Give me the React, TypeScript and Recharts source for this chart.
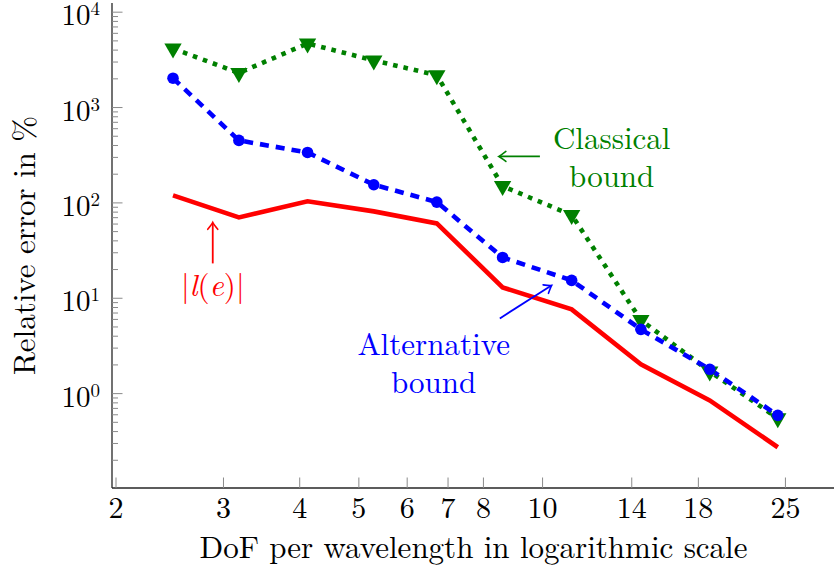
import React from 'react';
import { LineChart, Line, XAxis, YAxis, ReferenceDot, ReferenceLine } from 'recharts';

// ---- data ----
const dofPerWavelength = [2.48, 3.18, 4.12, 5.29, 6.71, 8.6, 11.16, 14.49, 18.79, 24.29];
const lOfE = [120, 70.5, 104, 81.5, 61, 13.0, 7.65, 2.03, 0.85, 0.274];
const alternativeBound = [2030, 452, 338, 155, 102, 26.8, 15.4, 4.72, 1.8, 0.592];
const classicalBound = [4160, 2305, 4700, 3117, 2186, 150, 74.5, 5.91, 1.71, 0.551];

const xTicks = [2, 3, 4, 5, 6, 7, 8, 10, 14, 18, 25];
const yDecades = [-1, 0, 1, 2, 3, 4];
const yMultipliers = [1, 2, 3, 4, 5, 6, 7, 8, 9];
const xDomain = [1.97, 30.6];
const yDomain = [0.1024, 12480];

const xLabel = 'DoF per wavelength in logarithmic scale';
const yLabel = 'Relative error in %';

const data = dofPerWavelength.map((x, i) => ({
  x,
  l: lOfE[i],
  alt: alternativeBound[i],
  cls: classicalBound[i],
}));

const yTicks: number[] = [];
yDecades.forEach((d) =>
  yMultipliers.forEach((m) => {
    const v = m * Math.pow(10, d);
    if (v >= yDomain[0] && v <= yDomain[1]) yTicks.push(v);
  })
);

const FONT = "'Latin Modern Roman', 'Liberation Serif', serif";
const RED = '#ff0000';
const BLUE = '#0000ff';
const GREEN = '#008000';
const TICK = '#8a8a8a';
const FRAME = '#262626';

const T = (props: any) => {
  const { size, children, ...rest } = props;
  return (
    <text fontFamily={FONT} fontSize={size} style={{ fontFamily: FONT, fontSize: size }} {...rest}>
      {children}
    </text>
  );
};

const isMajor = (v: number) => Math.abs(Math.log10(v) - Math.round(Math.log10(v))) < 1e-9;

const BottomTick = (p: any) => (
  <g>
    <line x1={p.x} x2={p.x} y1={p.y} y2={p.y - 10.5} stroke={TICK} strokeWidth={1} />
    <T x={p.x} y={p.y + 30} textAnchor="middle" size={30} fill="#000">
      {p.payload.value}
    </T>
  </g>
);
const TopTick = (p: any) => (
  <line x1={p.x} x2={p.x} y1={p.y} y2={p.y + 10.5} stroke={TICK} strokeWidth={1} />
);
const LeftTick = (p: any) => {
  const v = p.payload.value;
  const major = isMajor(v);
  return (
    <g>
      <line x1={p.x} x2={p.x + (major ? 10.5 : 6)} y1={p.y} y2={p.y} stroke={TICK} strokeWidth={1} />
      {major && (
        <T x={p.x - 12} y={p.y + 13} textAnchor="end" size={29} fill="#000">
          10
          <tspan dy={-10} fontSize={19} style={{ fontSize: 19 }}>
            {Math.round(Math.log10(v))}
          </tspan>
        </T>
      )}
    </g>
  );
};
const RightTick = (p: any) => {
  const major = isMajor(p.payload.value);
  return <line x1={p.x} x2={p.x - (major ? 10.5 : 6)} y1={p.y} y2={p.y} stroke={TICK} strokeWidth={1} />;
};

const TriDown = (p: any) => {
  const { cx, cy } = p;
  if (cx == null || cy == null) return null;
  const r = 10;
  const h = (r * Math.sqrt(3)) / 2;
  return (
    <path
      d={`M${cx - h},${cy - r / 2} L${cx + h},${cy - r / 2} L${cx},${cy + r} Z`}
      fill={GREEN}
      stroke="none"
    />
  );
};
const BlueDot = (p: any) => {
  const { cx, cy } = p;
  if (cx == null || cy == null) return null;
  return <circle cx={cx} cy={cy} r={5.8} fill={BLUE} stroke="none" />;
};

// arrow drawn between two data points: tip at the second point
const Arrow = (color: string) => (p: any) => {
  const { x1, y1, x2, y2 } = p;
  if (x1 == null) return null;
  const dx = x2 - x1;
  const dy = y2 - y1;
  const len = Math.sqrt(dx * dx + dy * dy) || 1;
  const ux = dx / len;
  const uy = dy / len;
  const nx = -uy;
  const ny = ux;
  const back = 7;
  const wide = 5;
  const ax = x2 - ux * back + nx * wide;
  const ay = y2 - uy * back + ny * wide;
  const bx = x2 - ux * back - nx * wide;
  const by = y2 - uy * back - ny * wide;
  const cax = x2 - ux * 2 + nx * 1;
  const cay = y2 - uy * 2 + ny * 1;
  const cbx = x2 - ux * 2 - nx * 1;
  const cby = y2 - uy * 2 - ny * 1;
  return (
    <g>
      <line x1={x1} y1={y1} x2={x2 - ux * 0.8} y2={y2 - uy * 0.8} stroke={color} strokeWidth={1.8} />
      <path
        d={`M${ax},${ay} Q${cax},${cay} ${x2},${y2} Q${cbx},${cby} ${bx},${by}`}
        fill="none"
        stroke={color}
        strokeWidth={1.6}
        strokeLinecap="round"
      />
    </g>
  );
};

const TwoLine = (lines: string[], color: string) => (p: any) => {
  const { cx, cy } = p;
  if (cx == null) return null;
  return (
    <T x={cx} y={cy} textAnchor="middle" size={31} fill={color}>
      <tspan x={cx} y={cy}>{lines[0]}</tspan>
      <tspan x={cx} y={cy + 38}>{lines[1]}</tspan>
    </T>
  );
};

const LeLabel = (p: any) => {
  const { cx, cy } = p;
  if (cx == null) return null;
  return (
    <T x={cx} y={cy} textAnchor="middle" size={31} fill={RED}>
      |<tspan fontStyle="italic" style={{ fontStyle: 'italic' }}>l</tspan>(
      <tspan fontStyle="italic" style={{ fontStyle: 'italic' }}>e</tspan>)|
    </T>
  );
};

const XAxisLabel = (p: any) => {
  const vb = p.viewBox || {};
  return (
    <T x={vb.x + vb.width / 2 - 2} y={vb.y + 70} textAnchor="middle" size={31} fill="#000">
      {xLabel}
    </T>
  );
};
const YAxisLabel = (p: any) => {
  const vb = p.viewBox || {};
  const cy = vb.y + vb.height / 2;
  return (
    <T x={35} y={cy} transform={`rotate(-90 35 ${cy})`} textAnchor="middle" size={31} fill="#000">
      {yLabel}
    </T>
  );
};

export default function App() {
  return (
    <div
      style={{
        position: 'absolute',
        left: 0,
        top: 0,
        width: 834,
        height: 574,
        overflow: 'hidden',
        background: '#fff',
        fontFamily: FONT,
      }}
    >
      <LineChart
        width={845}
        height={574}
        data={data}
        margin={{ top: 3, right: 6, left: 0, bottom: 0 }}
        style={{ fontFamily: FONT }}
      >
        <XAxis
          dataKey="x"
          type="number"
          scale="log"
          domain={xDomain}
          ticks={xTicks}
          interval={0}
          allowDataOverflow
          height={86}
          tickSize={0}
          tickMargin={0}
          tickLine={false}
          axisLine={{ stroke: FRAME, strokeWidth: 1.3 }}
          tick={<BottomTick />}
          label={<XAxisLabel />}
        />
        <XAxis
          xAxisId="top"
          orientation="top"
          dataKey="x"
          type="number"
          scale="log"
          domain={xDomain}
          ticks={xTicks}
          interval={0}
          allowDataOverflow
          height={0}
          tickSize={0}
          tickMargin={0}
          tickLine={false}
          axisLine={{ stroke: FRAME, strokeWidth: 1.3 }}
          tick={<TopTick />}
        />
        <YAxis
          type="number"
          scale="log"
          domain={yDomain}
          ticks={yTicks}
          interval={0}
          allowDataOverflow
          width={112}
          tickSize={0}
          tickMargin={0}
          tickLine={false}
          axisLine={{ stroke: FRAME, strokeWidth: 1.3 }}
          tick={<LeftTick />}
          label={<YAxisLabel />}
        />
        <YAxis
          yAxisId="right"
          orientation="right"
          type="number"
          scale="log"
          domain={yDomain}
          ticks={yTicks}
          interval={0}
          allowDataOverflow
          width={0}
          tickSize={0}
          tickMargin={0}
          tickLine={false}
          axisLine={{ stroke: FRAME, strokeWidth: 1.3 }}
          tick={<RightTick />}
        />

        <Line
          dataKey="l"
          stroke={RED}
          strokeWidth={4.6}
          dot={false}
          isAnimationActive={false}
          type="linear"
          strokeLinejoin="miter"
        />
        <Line
          dataKey="cls"
          stroke={GREEN}
          strokeWidth={4.6}
          strokeDasharray="4.6 6"
          dot={(p: any) => <TriDown key={`t${p.index}`} {...p} />}
          isAnimationActive={false}
          type="linear"
        />
        <Line
          dataKey="alt"
          stroke={BLUE}
          strokeWidth={4.6}
          strokeDasharray="9 7"
          dot={(p: any) => <BlueDot key={`b${p.index}`} {...p} />}
          isAnimationActive={false}
          type="linear"
        />

        {/* annotations */}
        <ReferenceLine
          segment={[
            { x: 9.9, y: 307 },
            { x: 8.48, y: 307 },
          ]}
          shape={Arrow(GREEN)}
        />
        <ReferenceDot x={12.98} y={364} shape={TwoLine(['Classical', 'bound'], GREEN)} />
        <ReferenceLine
          segment={[
            { x: 2.881, y: 23.2 },
            { x: 2.881, y: 62.5 },
          ]}
          shape={Arrow(RED)}
        />
        <ReferenceDot x={2.881} y={10.47} shape={LeLabel} />
        <ReferenceLine
          segment={[
            { x: 8.51, y: 6.15 },
            { x: 10.35, y: 13.65 },
          ]}
          shape={Arrow(BLUE)}
        />
        <ReferenceDot x={6.63} y={2.52} shape={TwoLine(['Alternative', 'bound'], BLUE)} />
      </LineChart>
    </div>
  );
}
